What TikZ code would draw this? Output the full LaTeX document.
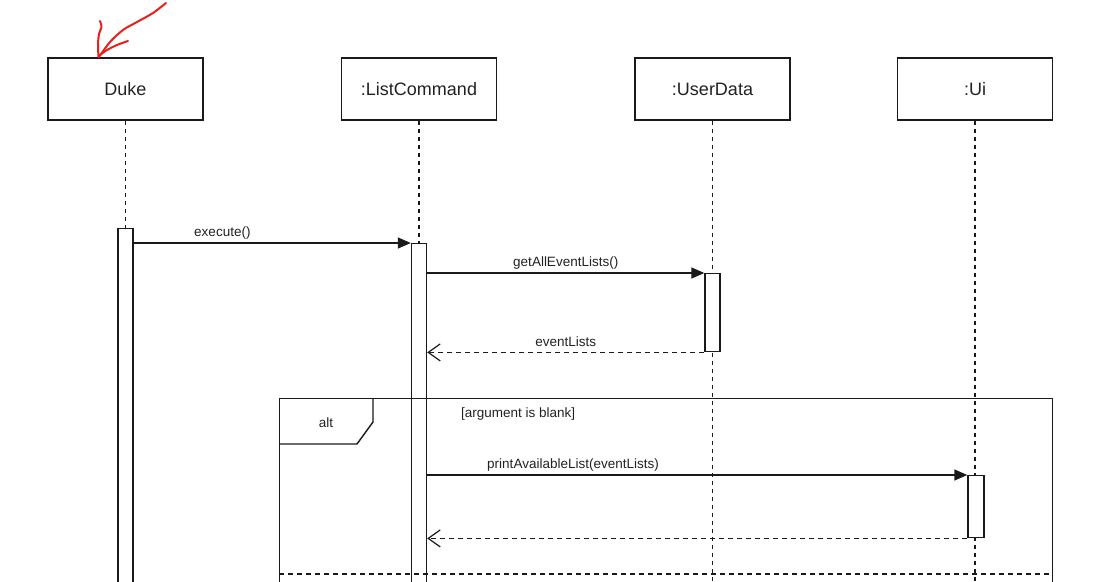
\documentclass[tikz,border=0pt]{standalone}
\usepackage{fontspec}
\setmainfont{Liberation Sans}
\usetikzlibrary{arrows.meta,calc}
\definecolor{ink}{HTML}{1A1A1A}
\definecolor{txt}{HTML}{222222}
\definecolor{pen}{HTML}{E8201C}
\tikzset{
  actor/.style={draw=ink, line width=1.5pt, fill=white, minimum width=155pt,
    minimum height=62pt, inner sep=0pt, text=txt, font=\fontsize{18}{20}\selectfont},
  actbar/.style={draw=ink, line width=1.4pt, fill=white, minimum width=15pt,
    inner sep=0pt, anchor=north},
  lifeline/.style={draw=ink, line width=1.3pt, dash pattern=on 4pt off 4pt},
  call/.style={draw=ink, line width=1.4pt, -{Triangle[length=13pt,width=11pt]}},
  ret/.style={draw=ink, line width=1.3pt, dash pattern=on 5pt off 4pt,
    -{Straight Barb[length=12pt,width=17pt,line width=1.2pt]}},
  msg/.style={above=2.5pt, inner sep=0pt, text height=10pt, text depth=3pt,
    text=txt, font=\fontsize{13.5}{15}\selectfont},
  fragment/.style={draw=ink, line width=1.4pt, anchor=north west, inner sep=0pt},
  penstroke/.style={draw=pen, line width=2pt, line cap=round, line join=round}
}
\begin{document}
\begin{tikzpicture}[x=1pt,y=1pt]
\useasboundingbox (0,0) rectangle (1119,-581);
\clip (0,0) rectangle (1119,-581);

% participants
\node[actor] (duke) at (125.5,-89) {Duke};
\node[actor] (lc)   at (419,-89)   {:ListCommand};
\node[actor] (ud)   at (712.5,-89) {:UserData};
\node[actor] (ui)   at (975,-89)   {:Ui};

% lifelines
\coordinate (dukeend) at (125.5,-600);
\coordinate (lcend)   at (419,-600);
\coordinate (udend)   at (712.5,-600);
\coordinate (uiend)   at (975,-600);
\draw[lifeline] (duke.south) -- (dukeend);
\draw[lifeline] (lc.south) -- (lcend);
\draw[lifeline] (ud.south) -- (udend);
\draw[lifeline] (ui.south) -- (uiend);

% activation bars
\node[actbar, minimum height=380pt] (dukebar) at (125.5,-228) {};
\node[actbar, minimum height=370pt] (lcbar)   at (419,-243)   {};
\node[actbar, minimum height=78pt]  (udbar)   at (712.5,-273) {};
\node[actbar, minimum height=62pt, minimum width=16pt] (uibar) at (976,-475) {};

% messages
\draw[call] (dukebar.east |- lcbar.north) -- node[msg, pos=0.32] (m1) {execute()} (lcbar.north west);
\draw[call] (lcbar.east |- udbar.north) -- node[msg] (m2) {getAllEventLists()} (udbar.north west);
\draw[ret] (udbar.south west) -- node[msg] (m3) {eventLists} (lcbar.east |- udbar.south);

% alt combined fragment
\node[fragment, minimum width=773pt, minimum height=250pt] (alt) at (279,-398) {};
\coordinate (tagtop) at (373,-398);
\coordinate (tagbend) at (373,-422);
\coordinate (tagcut) at (357,-444);
\coordinate (tagleft) at (279,-444);
\draw[draw=ink, line width=1.4pt, line join=miter] (tagtop) -- (tagbend) -- (tagcut) -- (tagleft);
\node[text=txt, font=\fontsize{13.5}{15}\selectfont] (altname) at (326,-423) {alt};
\node[anchor=west, inner sep=0pt, text=txt, font=\fontsize{13.5}{15}\selectfont] (guard) at (461,-414) {[argument is blank]};

\draw[call] (lcbar.east |- uibar.north) -- node[msg, pos=0.27] (m4) {printAvailableList(eventLists)} (uibar.north west);
\draw[ret] (uibar.south west) -- (lcbar.east |- uibar.south);

% operand separator
\coordinate (sepl) at (279,-574);
\coordinate (sepr) at (1052,-574);
\draw[draw=ink, line width=1.3pt, dash pattern=on 5pt off 4pt] (sepl) -- (sepr);

% hand-drawn pointer
\draw[penstroke] plot[smooth] coordinates {(166,-3) (153,-13) (137,-22) (123,-30) (110,-42) (99,-57)};
\draw[penstroke] plot[smooth] coordinates {(100,-21) (101.5,-27) (99,-34) (98,-45) (98.5,-57)};
\draw[penstroke] plot[smooth] coordinates {(128,-41) (117,-45) (107,-50) (100,-55)};
\end{tikzpicture}
\end{document}
